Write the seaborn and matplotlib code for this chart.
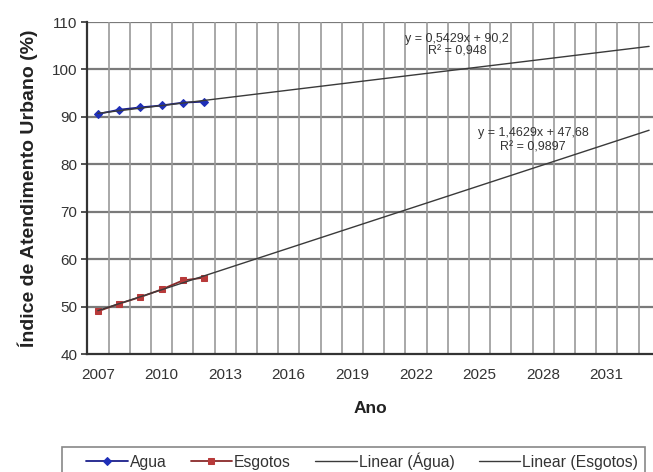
import numpy as np
import pandas as pd
import matplotlib
matplotlib.use("Agg")
import matplotlib.pyplot as plt
import matplotlib.transforms as mtransforms
from matplotlib.patches import Rectangle
import seaborn as sns

# ---- data -------------------------------------------------------------
anos = list(range(2007, 2034))                 # category axis (Ano)
anos_dados = [2007, 2008, 2009, 2010, 2011, 2012]
agua = [90.6, 91.5, 92.0, 92.4, 93.0, 93.2]
esgotos = [49.0, 50.6, 52.0, 53.6, 55.5, 56.1]
trend_slope = [0.5429, 1.4629]
trend_intercept = [90.2, 47.68]
trend_eq = ["y = 0,5429x + 90,2", "y = 1,4629x + 47,68"]
trend_r2 = ["R² = 0,948", "R² = 0,9897"]
tick_labels = [str(a) for a in anos[:-2:3]]
series_names = ["Agua", "Esgotos"]
trend_names = ["Linear (Água)", "Linear (Esgotos)"]

sns.set_theme(style="white")
plt.rcParams["font.family"] = ["Liberation Sans", "DejaVu Sans"]

W, H = 653, 472
fig = plt.figure(figsize=(W / 100, H / 100), dpi=100)
ax = fig.add_axes([87.3 / W, 1 - 354 / H, (W - 87.3) / W, (354 - 22) / H])

idx = {a: i for i, a in enumerate(anos)}
df = pd.DataFrame({
    "x": [idx[a] for a in anos_dados] * 2,
    "v": agua + esgotos,
    "s": [series_names[0]] * len(agua) + [series_names[1]] * len(esgotos),
})

line_cols = ["#1a1f8a", "#8a2a2a"]
mk_cols = ["#1f2fb8", "#b83a3a"]
markers = ["D", "s"]
msizes = [7.5, 8.5]
for k, name in enumerate(series_names):
    sub = df[df["s"] == name]
    sns.lineplot(data=sub, x="x", y="v", ax=ax, color=line_cols[k], lw=1.8,
                 marker=markers[k], markersize=msizes[k], markerfacecolor=mk_cols[k],
                 markeredgecolor=mk_cols[k], label=name, zorder=3, legend=False)

# trend lines (Excel x = category index + 1)
xt = np.array([0, len(anos) - 1])
for k in range(2):
    yt = trend_slope[k] * (xt + 1) + trend_intercept[k]
    sns.lineplot(x=xt, y=yt, ax=ax, color="#3a3a3a", lw=1.0, zorder=4,
                 label=trend_names[k], legend=False)

# equation labels
eq_pos = [(16.94, 106.4, 103.7), (20.52, 86.6, 83.6)]
for k in range(2):
    xx, y1, y2 = eq_pos[k]
    ax.text(xx, y1, trend_eq[k], ha="center", va="center", fontsize=9, color="#333333", zorder=5)
    ax.text(xx, y2, trend_r2[k], ha="center", va="center", fontsize=9, color="#333333", zorder=5)

# axes
ax.set_xlim(-0.5, -0.5 + (W - 87.3) / 21.2)
ax.set_ylim(40, 110)
ax.set_yticks(np.arange(40, 111, 10))
ax.set_xticks(np.arange(0, len(anos) - 2, 3))
ax.set_xticklabels(tick_labels)
ax.set_xticks(np.arange(0.5, len(anos) - 0.5, 1), minor=True)
ax.tick_params(axis="x", which="major", length=0, labelsize=11, labelcolor="#333333", pad=10)
ax.tick_params(axis="x", which="minor", length=4, width=1.2, color="#333333", direction="out")
ax.tick_params(axis="y", which="major", length=4, width=1.2, color="#333333", direction="out",
               labelsize=11, labelcolor="#333333", left=True, pad=3)
ax.grid(False)
for yv in np.arange(50, 111, 10):
    ax.axhline(yv, color="#7a7a7a", lw=1.6, zorder=1)
for xv in np.arange(0.5, len(anos) - 0.5, 1):
    ax.axvline(xv, color="#9a9a9a", lw=1.2, zorder=1)
for side in ["top", "right"]:
    ax.spines[side].set_visible(False)
for side in ["left", "bottom"]:
    ax.spines[side].set_color("#333333")
    ax.spines[side].set_linewidth(1.6)

ax.set_xlabel("Ano", fontsize=12.5, fontweight="bold", color="#222222", labelpad=14)
ax.set_ylabel("Índice de Atendimento Urbano (%)", fontsize=14, fontweight="bold",
              color="#222222")
blend = mtransforms.blended_transform_factory(fig.transFigure, ax.transAxes)
ax.yaxis.set_label_coords(28 / W, 0.5, transform=blend)
ax.yaxis.label.set_va("center")

# legend: frame drawn as a rectangle, entries placed inside
fig.patches.append(Rectangle((62 / W, -0.05), (645 - 62) / W, 0.05 + (1 - 447 / H),
                             transform=fig.transFigure, facecolor="white",
                             edgecolor="#888888", lw=1.2, zorder=0))
h, l = ax.get_legend_handles_labels()
for hh in h[:2]:
    hh.set_markersize(4.5)
    hh.set_linewidth(1.3)
leg = fig.legend(h, l, loc="center left", bbox_to_anchor=(86 / W, 1 - 461 / H),
                 borderaxespad=0, ncol=4, frameon=False, fontsize=11.3,
                 handlelength=2.65, columnspacing=1.55, borderpad=0,
                 handletextpad=0.12)
for t in leg.get_texts():
    t.set_color("#333333")

fig.savefig("out.png", dpi=100)
